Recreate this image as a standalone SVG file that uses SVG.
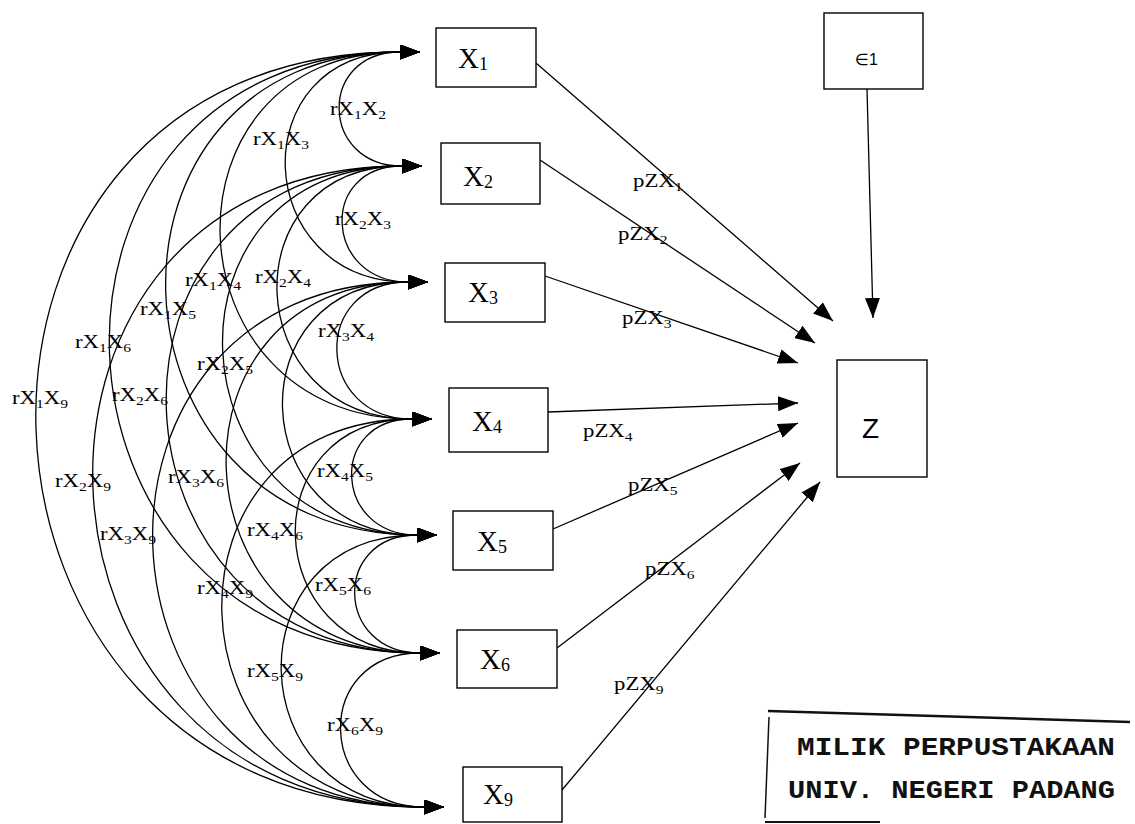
<svg xmlns="http://www.w3.org/2000/svg" width="1135" height="824" viewBox="0 0 1135 824">
  <style>
    .box { fill: #fff; stroke: #000; stroke-width: 1.4; }
    .arc { fill: none; stroke: #000; stroke-width: 1.3; marker-start: url(#ah); marker-end: url(#ah); }
    .path { fill: none; stroke: #000; stroke-width: 1.3; marker-end: url(#ah); }
    .lbl { font-family: "Liberation Serif", "Times New Roman", serif; font-size: 19px; fill: #000; }
    .node { font-family: "Liberation Serif", "Times New Roman", serif; font-size: 29px; fill: #000; }
    .sub { font-size: 13px; }
    .nsub { font-size: 18px; }
    .sans { font-family: "Liberation Sans", "DejaVu Sans", sans-serif; fill: #000; }
    .stamp { font-family: "Liberation Mono", "DejaVu Sans Mono", monospace; font-weight: bold; font-size: 26px; fill: #111; }
    .stampline { fill: none; stroke: #111; }
  </style>
  <defs>
    <marker id="ah" viewBox="0 0 20 15" refX="20" refY="7.5" markerWidth="20" markerHeight="15" markerUnits="userSpaceOnUse" orient="auto-start-reverse">
      <path d="M0,0 L20,7.5 L0,15 z" fill="#000"/>
    </marker>
  </defs>

  <rect width="1135" height="824" fill="#fff"/>

  <!-- correlation arcs between the predictors and the paths to Z -->
  <g id="connectors">
    <path class="arc" d="M420,52 L400,52 C317.5,52 319.5,166 402,166 L422,166"/>
    <path class="arc" d="M420,52 L400,52 C241.7,52 249.7,282 408,282 L428,282"/>
    <path class="arc" d="M420,52 L400,52 C152.2,52 164.2,419 412,419 L432,419"/>
    <path class="arc" d="M420,52 L400,52 C76.4,52 93.4,535 417,535 L437,535"/>
    <path class="arc" d="M420,52 L400,52 C-0.7,52 19.3,653 420,653 L440,653"/>
    <path class="arc" d="M420,52 L400,52 C-101.3,52 -77.3,807 424,807 L444,807"/>
    <path class="arc" d="M422,166 L402,166 C318.2,166 324.2,282 408,282 L428,282"/>
    <path class="arc" d="M422,166 L402,166 C228.7,166 238.7,419 412,419 L432,419"/>
    <path class="arc" d="M422,166 L402,166 C152.9,166 167.9,535 417,535 L437,535"/>
    <path class="arc" d="M422,166 L402,166 C75.8,166 93.8,653 420,653 L440,653"/>
    <path class="arc" d="M422,166 L402,166 C-24.8,166 -2.8,807 424,807 L444,807"/>
    <path class="arc" d="M428,282 L408,282 C310.5,282 314.5,419 412,419 L432,419"/>
    <path class="arc" d="M428,282 L408,282 C234.7,282 243.7,535 417,535 L437,535"/>
    <path class="arc" d="M428,282 L408,282 C157.6,282 169.6,653 420,653 L440,653"/>
    <path class="arc" d="M428,282 L408,282 C57,282 73,807 424,807 L444,807"/>
    <path class="arc" d="M432,419 L412,419 C328.2,419 333.2,535 417,535 L437,535"/>
    <path class="arc" d="M432,419 L412,419 C251.1,419 259.1,653 420,653 L440,653"/>
    <path class="arc" d="M432,419 L412,419 C150.5,419 162.5,807 424,807 L444,807"/>
    <path class="arc" d="M437,535 L417,535 C331.9,535 334.9,653 420,653 L440,653"/>
    <path class="arc" d="M437,535 L417,535 C231.3,535 238.3,807 424,807 L444,807"/>
    <path class="arc" d="M440,653 L420,653 C311.4,653 315.4,807 424,807 L444,807"/>

    <line class="path" x1="536" y1="63" x2="833" y2="321"/>
    <line class="path" x1="540" y1="160" x2="815" y2="343"/>
    <line class="path" x1="545" y1="276" x2="798" y2="363"/>
    <line class="path" x1="548" y1="412" x2="798" y2="403"/>
    <line class="path" x1="553" y1="529" x2="798" y2="423"/>
    <line class="path" x1="557" y1="648" x2="800" y2="463"/>
    <line class="path" x1="562" y1="790" x2="820" y2="482"/>
    <line class="path" x1="867" y1="89" x2="873" y2="318"/>
  </g>

  <!-- correlation labels -->
  <g id="corr-labels" class="lbl">
    <text transform="translate(330 115) scale(1.2 1)">rX<tspan class="sub" dy="4">1</tspan><tspan dy="-4">X</tspan><tspan class="sub" dy="4">2</tspan></text>
    <text transform="translate(253 145) scale(1.2 1)">rX<tspan class="sub" dy="4">1</tspan><tspan dy="-4">X</tspan><tspan class="sub" dy="4">3</tspan></text>
    <text transform="translate(335 225) scale(1.2 1)">rX<tspan class="sub" dy="4">2</tspan><tspan dy="-4">X</tspan><tspan class="sub" dy="4">3</tspan></text>
    <text transform="translate(185 286) scale(1.2 1)">rX<tspan class="sub" dy="4">1</tspan><tspan dy="-4">X</tspan><tspan class="sub" dy="4">4</tspan></text>
    <text transform="translate(255 283) scale(1.2 1)">rX<tspan class="sub" dy="4">2</tspan><tspan dy="-4">X</tspan><tspan class="sub" dy="4">4</tspan></text>
    <text transform="translate(140 315) scale(1.2 1)">rX<tspan class="sub" dy="4">1</tspan><tspan dy="-4">X</tspan><tspan class="sub" dy="4">5</tspan></text>
    <text transform="translate(318 337) scale(1.2 1)">rX<tspan class="sub" dy="4">3</tspan><tspan dy="-4">X</tspan><tspan class="sub" dy="4">4</tspan></text>
    <text transform="translate(75 348) scale(1.2 1)">rX<tspan class="sub" dy="4">1</tspan><tspan dy="-4">X</tspan><tspan class="sub" dy="4">6</tspan></text>
    <text transform="translate(197 370) scale(1.2 1)">rX<tspan class="sub" dy="4">2</tspan><tspan dy="-4">X</tspan><tspan class="sub" dy="4">5</tspan></text>
    <text transform="translate(12 404) scale(1.2 1)">rX<tspan class="sub" dy="4">1</tspan><tspan dy="-4">X</tspan><tspan class="sub" dy="4">9</tspan></text>
    <text transform="translate(112 401) scale(1.2 1)">rX<tspan class="sub" dy="4">2</tspan><tspan dy="-4">X</tspan><tspan class="sub" dy="4">6</tspan></text>
    <text transform="translate(317 477) scale(1.2 1)">rX<tspan class="sub" dy="4">4</tspan><tspan dy="-4">X</tspan><tspan class="sub" dy="4">5</tspan></text>
    <text transform="translate(55 487) scale(1.2 1)">rX<tspan class="sub" dy="4">2</tspan><tspan dy="-4">X</tspan><tspan class="sub" dy="4">9</tspan></text>
    <text transform="translate(168 483) scale(1.2 1)">rX<tspan class="sub" dy="4">3</tspan><tspan dy="-4">X</tspan><tspan class="sub" dy="4">6</tspan></text>
    <text transform="translate(100 540) scale(1.2 1)">rX<tspan class="sub" dy="4">3</tspan><tspan dy="-4">X</tspan><tspan class="sub" dy="4">9</tspan></text>
    <text transform="translate(247 536) scale(1.2 1)">rX<tspan class="sub" dy="4">4</tspan><tspan dy="-4">X</tspan><tspan class="sub" dy="4">6</tspan></text>
    <text transform="translate(197 594) scale(1.2 1)">rX<tspan class="sub" dy="4">4</tspan><tspan dy="-4">X</tspan><tspan class="sub" dy="4">9</tspan></text>
    <text transform="translate(315 591) scale(1.2 1)">rX<tspan class="sub" dy="4">5</tspan><tspan dy="-4">X</tspan><tspan class="sub" dy="4">6</tspan></text>
    <text transform="translate(247 677) scale(1.2 1)">rX<tspan class="sub" dy="4">5</tspan><tspan dy="-4">X</tspan><tspan class="sub" dy="4">9</tspan></text>
    <text transform="translate(327 731) scale(1.2 1)">rX<tspan class="sub" dy="4">6</tspan><tspan dy="-4">X</tspan><tspan class="sub" dy="4">9</tspan></text>
  </g>

  <!-- path coefficient labels -->
  <g id="path-labels" class="lbl">
    <text transform="translate(633 187) scale(1.2 1)">pZX<tspan class="sub" dy="4">1</tspan></text>
    <text transform="translate(618 240) scale(1.2 1)">pZX<tspan class="sub" dy="4">2</tspan></text>
    <text transform="translate(622 324) scale(1.2 1)">pZX<tspan class="sub" dy="4">3</tspan></text>
    <text transform="translate(583 437) scale(1.2 1)">pZX<tspan class="sub" dy="4">4</tspan></text>
    <text transform="translate(628 491) scale(1.2 1)">pZX<tspan class="sub" dy="4">5</tspan></text>
    <text transform="translate(645 575) scale(1.2 1)">pZX<tspan class="sub" dy="4">6</tspan></text>
    <text transform="translate(614 690) scale(1.2 1)">pZX<tspan class="sub" dy="4">9</tspan></text>
  </g>

  <g id="X1">
    <rect class="box" x="436" y="28" width="100" height="59"/>
    <text class="node" x="458" y="68">X<tspan class="nsub" dy="2">1</tspan></text>
  </g>
  <g id="X2">
    <rect class="box" x="441" y="143" width="99" height="61"/>
    <text class="node" x="463" y="186">X<tspan class="nsub" dy="2">2</tspan></text>
  </g>
  <g id="X3">
    <rect class="box" x="445" y="263" width="100" height="59"/>
    <text class="node" x="468" y="302">X<tspan class="nsub" dy="2">3</tspan></text>
  </g>
  <g id="X4">
    <rect class="box" x="449" y="388" width="99" height="64"/>
    <text class="node" x="472" y="431">X<tspan class="nsub" dy="2">4</tspan></text>
  </g>
  <g id="X5">
    <rect class="box" x="453" y="511" width="100" height="59"/>
    <text class="node" x="477" y="551">X<tspan class="nsub" dy="2">5</tspan></text>
  </g>
  <g id="X6">
    <rect class="box" x="457" y="630" width="100" height="58"/>
    <text class="node" x="480" y="669">X<tspan class="nsub" dy="2">6</tspan></text>
  </g>
  <g id="X9">
    <rect class="box" x="463" y="767" width="99" height="55"/>
    <text class="node" x="483" y="804">X<tspan class="nsub" dy="2">9</tspan></text>
  </g>
  <g id="e1">
    <rect class="box" x="824" y="13" width="99" height="76"/>
    <text class="sans" x="855" y="65" font-size="16">∈1</text>
  </g>
  <g id="Z">
    <rect class="box" x="837" y="360" width="90" height="117"/>
    <text class="sans" x="862" y="438" font-size="28">Z</text>
  </g>

  <!-- library ownership stamp -->
  <g id="stamp">
    <line class="stampline" x1="768" y1="711" x2="1130" y2="722" stroke-width="2.5"/>
    <line class="stampline" x1="769" y1="717" x2="765" y2="818" stroke-width="1.5"/>
    <line class="stampline" x1="765" y1="822" x2="880" y2="822" stroke-width="2"/>
    <text class="stamp" x="797" y="755" textLength="318" lengthAdjust="spacingAndGlyphs">MILIK PERPUSTAKAAN</text>
    <text class="stamp" x="788" y="798" textLength="327" lengthAdjust="spacingAndGlyphs">UNIV. NEGERI PADANG</text>
  </g>
</svg>
